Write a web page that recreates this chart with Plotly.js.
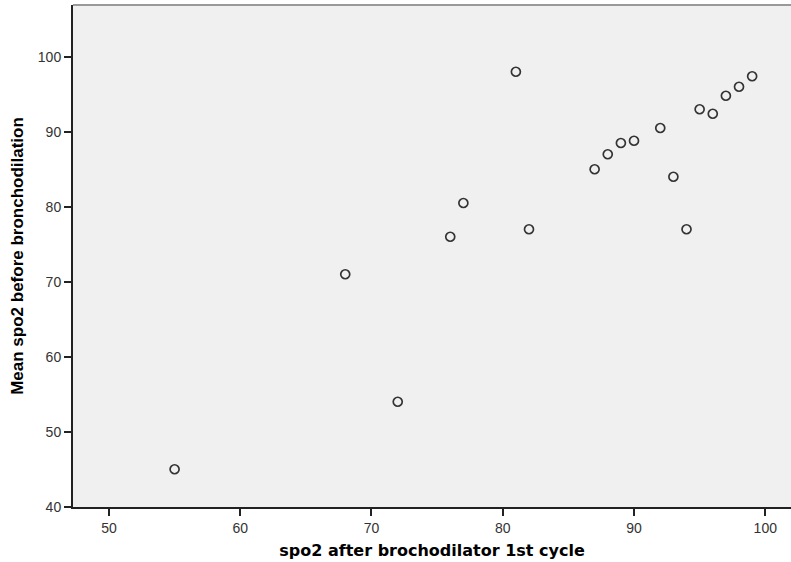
<!DOCTYPE html>
<html>
<head>
<meta charset="utf-8">
<script src="https://cdn.plot.ly/plotly-3.0.1.min.js"></script>
<style>html,body{margin:0;padding:0;background:#fff;}#chart{width:791px;height:562px;}</style>
</head>
<body>
<div id="chart"></div>
<script>
// spo2 after brochodilator 1st cycle (x) vs Mean spo2 before bronchodilation (y)
const spo2After = [55, 68, 72, 76, 77, 81, 82, 87, 88, 89, 90, 92, 93, 94, 95, 96, 97, 98, 99];
const spo2Before = [45, 71, 54, 76, 80.5, 98, 77, 85, 87, 88.5, 88.8, 90.5, 84, 77, 93, 92.4, 94.8, 96, 97.4];
const xTicks = [50, 60, 70, 80, 90, 100];
const yTicks = [40, 50, 60, 70, 80, 90, 100];

const trace = {
  x: spo2After,
  y: spo2Before,
  type: 'scatter',
  mode: 'markers',
  marker: {symbol: 'circle-open', size: 9, color: '#333333', line: {width: 1.7, color: '#333333'}},
  hoverinfo: 'x+y'
};

const tickFont = {family: 'Liberation Sans, Arial, sans-serif', size: 14, color: '#333333'};

const layout = {
  width: 791, height: 562,
  margin: {l: 73, r: 0, t: 5, b: 55},
  paper_bgcolor: '#ffffff',
  plot_bgcolor: '#f0f0f0',
  showlegend: false,
  xaxis: {
    range: [47.26, 101.96],
    tickvals: xTicks,
    ticktext: xTicks.map(String),
    ticks: 'outside', ticklen: 7, tickwidth: 2, tickcolor: '#222222',
    showgrid: false, zeroline: false,
    showline: true, linecolor: '#222222', linewidth: 2,
    tickfont: tickFont,
    title: {text: '<b>spo2 after brochodilator 1st cycle</b>', font: {family: 'DejaVu Sans, sans-serif', size: 16, color: '#000000'}, standoff: 10}
  },
  yaxis: {
    range: [39.97, 106.9],
    tickvals: yTicks,
    ticktext: yTicks.map(String),
    ticks: 'outside', ticklen: 7, tickwidth: 2, tickcolor: '#222222',
    showgrid: false, zeroline: false,
    showline: true, linecolor: '#222222', linewidth: 2,
    tickfont: tickFont,
    title: {text: '<b>Mean spo2 before bronchodilation</b>', font: {family: 'Liberation Sans, Arial, sans-serif', size: 17, color: '#000000'}, standoff: 10}
  },
  shapes: [
    {type: 'line', xref: 'paper', yref: 'paper', x0: 0, x1: 1, y0: 1, y1: 1, line: {color: '#999999', width: 2}}
  ]
};

Plotly.newPlot('chart', [trace], layout, {displayModeBar: false, staticPlot: true});
</script>
</body>
</html>
